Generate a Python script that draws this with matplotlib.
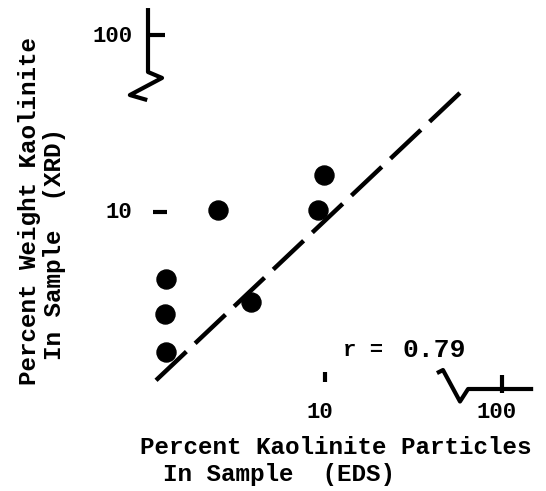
import matplotlib.pyplot as plt

# percent kaolinite particles (EDS) vs percent weight kaolinite (XRD)
eds = [2.5, 1.26, 1.25, 1.27, 3.8, 9.1, 9.9]
xrd = [10.2, 4.2, 2.65, 1.62, 3.1, 10.2, 16.2]

# regression line ends
fit_x = [1.11, 63]
fit_y = [1.12, 51]

W, H = 546, 491
plt.rcParams["font.family"] = ["Liberation Mono", "DejaVu Sans Mono"]
plt.rcParams["font.weight"] = "bold"

fig = plt.figure(figsize=(W / 100, H / 100), dpi=100)
# origin (1, 1) sits at pixel (148, 389), one decade = 177 px
ax = fig.add_axes([148 / W, 1 - 389 / H, (540 - 148) / W, (389 - 5) / H])
ax.set_xscale("log")
ax.set_yscale("log")
ax.set_xlim(1, 10 ** ((540 - 148) / 177))
ax.set_ylim(1, 10 ** ((389 - 5) / 177))
ax.axis("off")

ax.plot(fit_x, fit_y, color="black", lw=3.2, dashes=(9.4, 2.7),
        dash_capstyle="butt", clip_on=False)
ax.plot(eds, xrd, "o", color="black", ms=13.7, clip_on=False)

k = dict(color="black", lw=3, clip_on=False, solid_capstyle="butt")
# broken y axis
ax.plot([1, 1, 1.2, 0.79, 0.99], [142, 61.8, 57.2, 45.8, 42.9], **k)
ax.plot([1, 1.25], [100, 100], **k)
ax.plot([1.07, 1.28], [10, 10], **k)
# broken x axis
ax.plot([10, 10], [1.1, 1.25], **k)
ax.plot([42.9, 46.4, 57.9, 64.3, 70, 150], [1.23, 1.28, 0.85, 1.0, 1.0, 1.0], **k)
ax.plot([100, 100], [0.95, 1.2], **k)


def px(x, y):
    return x / W, 1 - y / H


fs = 17.5
fig.text(*px(133, 36), "100", fontsize=16, ha="right", va="center")
fig.text(*px(132, 212), "10", fontsize=16, ha="right", va="center")
fig.text(*px(320, 413), "10", fontsize=16, ha="center", va="center")
fig.text(*px(497, 413), "100", fontsize=16, ha="center", va="center")
fig.text(*px(343, 351), "r =", fontsize=16, ha="left", va="center")
fig.text(*px(466, 350), "0.79", fontsize=19, ha="right", va="center")

fig.text(*px(140, 448), "Percent Kaolinite Particles", fontsize=fs,
         ha="left", va="center")
fig.text(*px(163, 474), "In Sample  (EDS)", fontsize=fs, ha="left", va="center")
fig.text(*px(30, 385), "Percent Weight Kaolinite", fontsize=fs,
         rotation=90, ha="center", va="bottom")
fig.text(*px(55, 360), "In Sample  (XRD)", fontsize=fs,
         rotation=90, ha="center", va="bottom")

fig.savefig("out.png", dpi=100)
